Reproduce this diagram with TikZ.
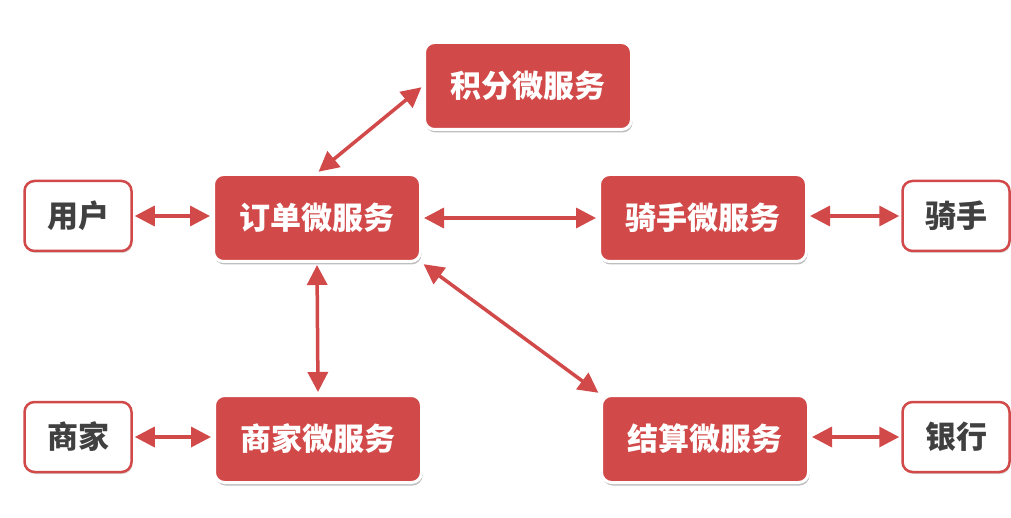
\documentclass[tikz,border=0pt]{standalone}
\usepackage{fontspec}
\newfontfamily\cjk{Noto Sans CJK SC}
\usetikzlibrary{arrows.meta,shadows}
\definecolor{rd}{RGB}{210,73,73}
\definecolor{tx}{RGB}{64,64,64}
\begin{document}
\begin{tikzpicture}[x=1pt,y=-1pt,
  svc/.style={rectangle, rounded corners=10pt, fill=rd, draw=white, line width=3pt,
    minimum width=207pt, minimum height=87pt, inner sep=0pt, text=white,
    font=\cjk\bfseries\fontsize{31}{31}\selectfont,
    drop shadow={shadow xshift=1pt, shadow yshift=-3pt, opacity=0.25, fill=black}},
  ext/.style={rectangle, rounded corners=10pt, fill=white, draw=rd, line width=2.5pt,
    minimum width=107pt, minimum height=70pt, inner sep=0pt, text=tx,
    font=\cjk\bfseries\fontsize{31}{31}\selectfont,
    drop shadow={shadow xshift=1pt, shadow yshift=-2pt, opacity=0.15, fill=black}},
  link/.style={draw=rd, line width=3.5pt, shorten <=2pt, shorten >=2pt,
    {Triangle[length=20pt,width=20pt]}-{Triangle[length=20pt,width=20pt]}}
]
\path[use as bounding box, fill=white] (0,0) rectangle (1011,518);

\node[svc] (jf) at (528,86) {积分微服务};
\node[svc] (dd) at (317,218) {订单微服务};
\node[svc] (qs) at (703,218) {骑手微服务};
\node[svc] (sj) at (318,439) {商家微服务};
\node[svc] (js) at (705,439) {结算微服务};

\node[ext] (yh) at (78,216) {用户};
\node[ext] (qu) at (956,216) {骑手};
\node[ext] (sh) at (78,437) {商家};
\node[ext] (yx) at (956,437) {银行};

\draw[link] (yh.east) -- (yh.east -| dd.west);
\draw[link] (dd.east) -- (qs.west);
\draw[link] (qs.east |- qu.west) -- (qu.west);
\draw[link] (dd.north) -- (jf.west);
\draw[link] (dd.south) -- (sj.north);
\draw[link] (dd.south east) -- (js.north west);
\draw[link] (sh.east) -- (sh.east -| sj.west);
\draw[link] (js.east |- yx.west) -- (yx.west);
\end{tikzpicture}
\end{document}
